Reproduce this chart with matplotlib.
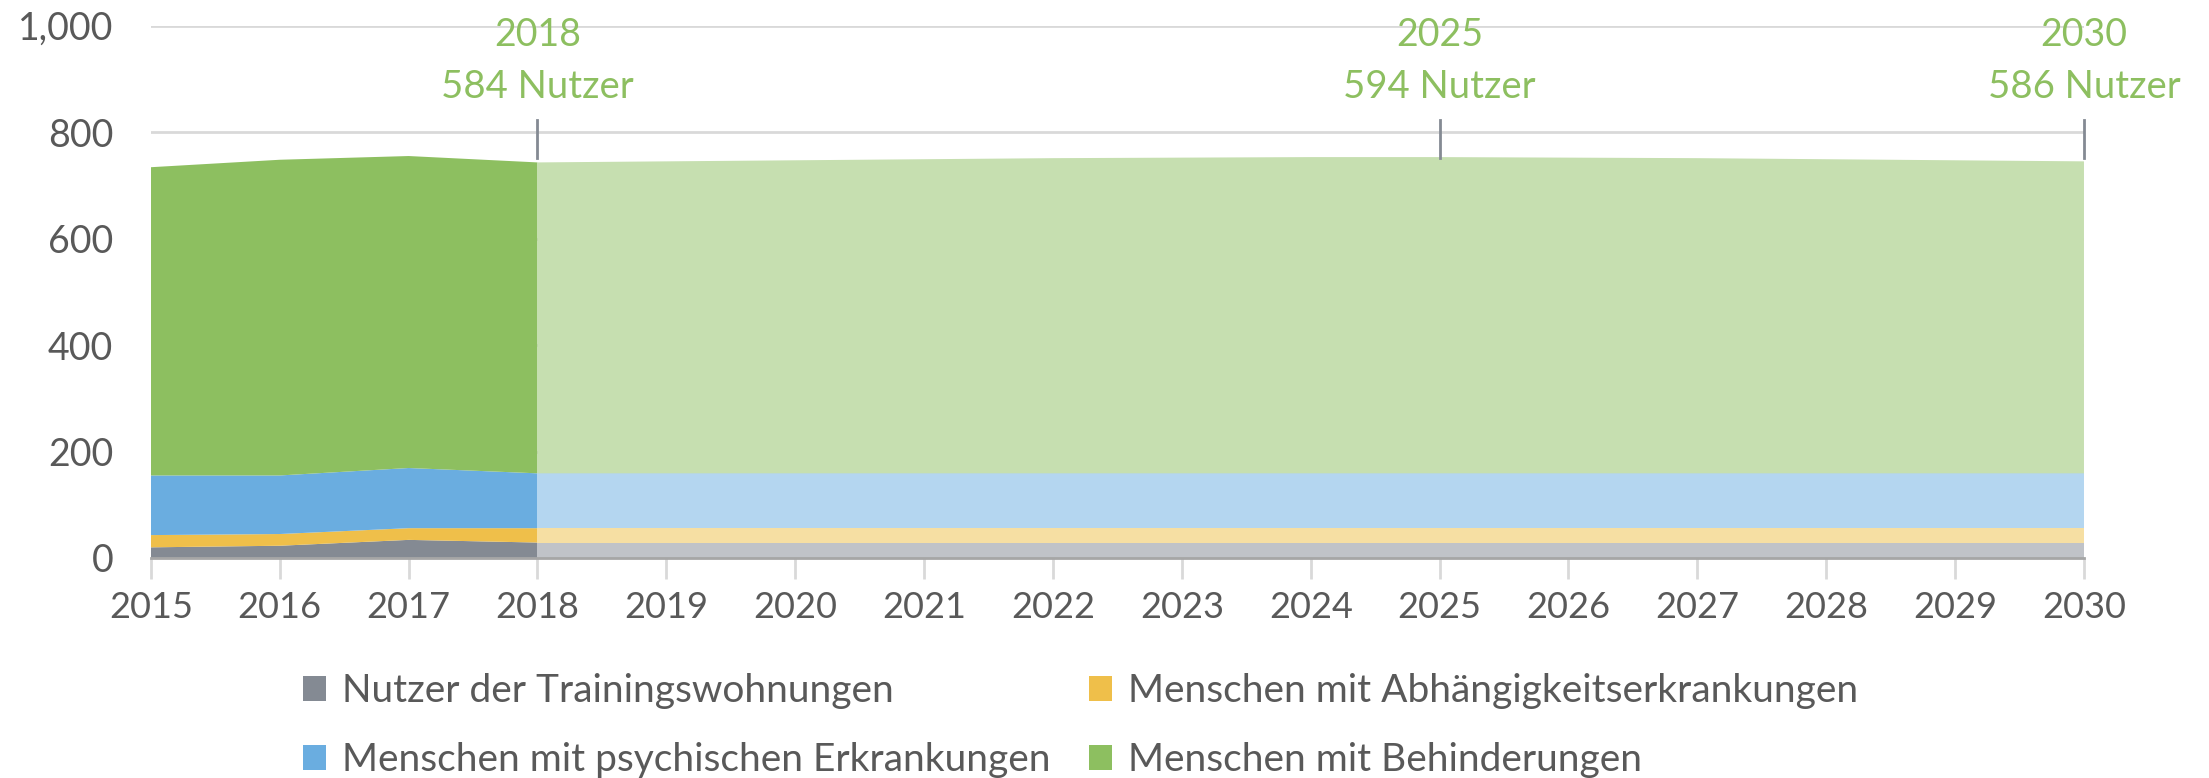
import matplotlib.pyplot as plt
from matplotlib.patches import Patch
import numpy as np

plt.rcParams['font.family'] = ['Lato', 'DejaVu Sans']

# history (2015-2018) and forecast (2018-2030)
years_hist = [2015, 2016, 2017, 2018]
training_hist = [20, 23, 34, 29]
sucht_hist = [23, 22, 22, 27]
psych_hist = [112, 110, 113, 103]
behind_hist = [579, 593, 586, 584]

years_fc = list(range(2018, 2031))
training_fc = [29] * 13
sucht_fc = [27] * 13
psych_fc = [103] * 13
behind_fc = [584, 586, 588, 590, 592, 593, 594, 594, 593, 592, 590, 588, 586]

labels = ['Nutzer der Trainingswohnungen', 'Menschen mit Abhängigkeitserkrankungen',
          'Menschen mit psychischen Erkrankungen', 'Menschen mit Behinderungen']
colors = ['#848A93', '#EFBF4A', '#6AADE0', '#8DBF60']
colors_light = ['#C0C3C8', '#F6DFA3', '#B4D6F0', '#C6DFB0']

# callouts for the green series
call_years = [2018, 2025, 2030]
call_values = [584, 594, 586]

text_grey = '#595959'
green = '#8DBF60'

fig = plt.figure(figsize=(22.09, 7.78), dpi=100)
ax = fig.add_axes([0.0683, 0.2828, 0.8751, 0.6843])

ax.stackplot(years_hist, training_hist, sucht_hist, psych_hist, behind_hist,
             colors=colors, linewidth=0)
ax.stackplot(years_fc, training_fc, sucht_fc, psych_fc, behind_fc,
             colors=colors_light, linewidth=0)

ax.set_xlim(2015, 2030)
ax.set_ylim(0, 1000)
ax.set_yticks(range(0, 1001, 200))
ax.set_yticklabels(['0', '200', '400', '600', '800', '1,000'])
ax.set_xticks(range(2015, 2031))
ax.yaxis.grid(True, color='#D9D9D9', linewidth=2)
ax.set_axisbelow(True)

for s in ['top', 'right', 'left']:
    ax.spines[s].set_visible(False)
ax.spines['bottom'].set_color('#A6A6A6')
ax.spines['bottom'].set_linewidth(2)
ax.spines['bottom'].set_zorder(5)
ax.spines['bottom'].set_clip_on(False)

ax.tick_params(axis='y', length=0, pad=27, labelsize=27, labelcolor=text_grey)
ax.tick_params(axis='x', length=15, width=2, color='#D9D9D9', pad=9,
               labelsize=26, labelcolor=text_grey)

for yr, val in zip(call_years, call_values):
    ax.plot([yr, yr], [752, 822], color='#848A93', linewidth=2, clip_on=False, zorder=6)
    ax.text(yr, 982, str(yr), ha='center', va='center', color=green, fontsize=27,
            clip_on=False)
    ax.text(yr, 885, f'{val} Nutzer', ha='center', va='center', color=green,
            fontsize=27.5, clip_on=False)

order = [0, 2, 1, 3]
handles = [Patch(facecolor=colors[i], edgecolor='none') for i in order]
fig.legend(handles, [labels[i] for i in order], ncol=2, loc='upper left',
           bbox_to_anchor=(0.137, 0.135), frameon=False, fontsize=28,
           labelcolor=text_grey, handlelength=0.6, handleheight=0.6,
           handletextpad=0.4, columnspacing=1.0, labelspacing=0.85,
           borderaxespad=0, borderpad=0)

plt.savefig('out.png', dpi=100)
